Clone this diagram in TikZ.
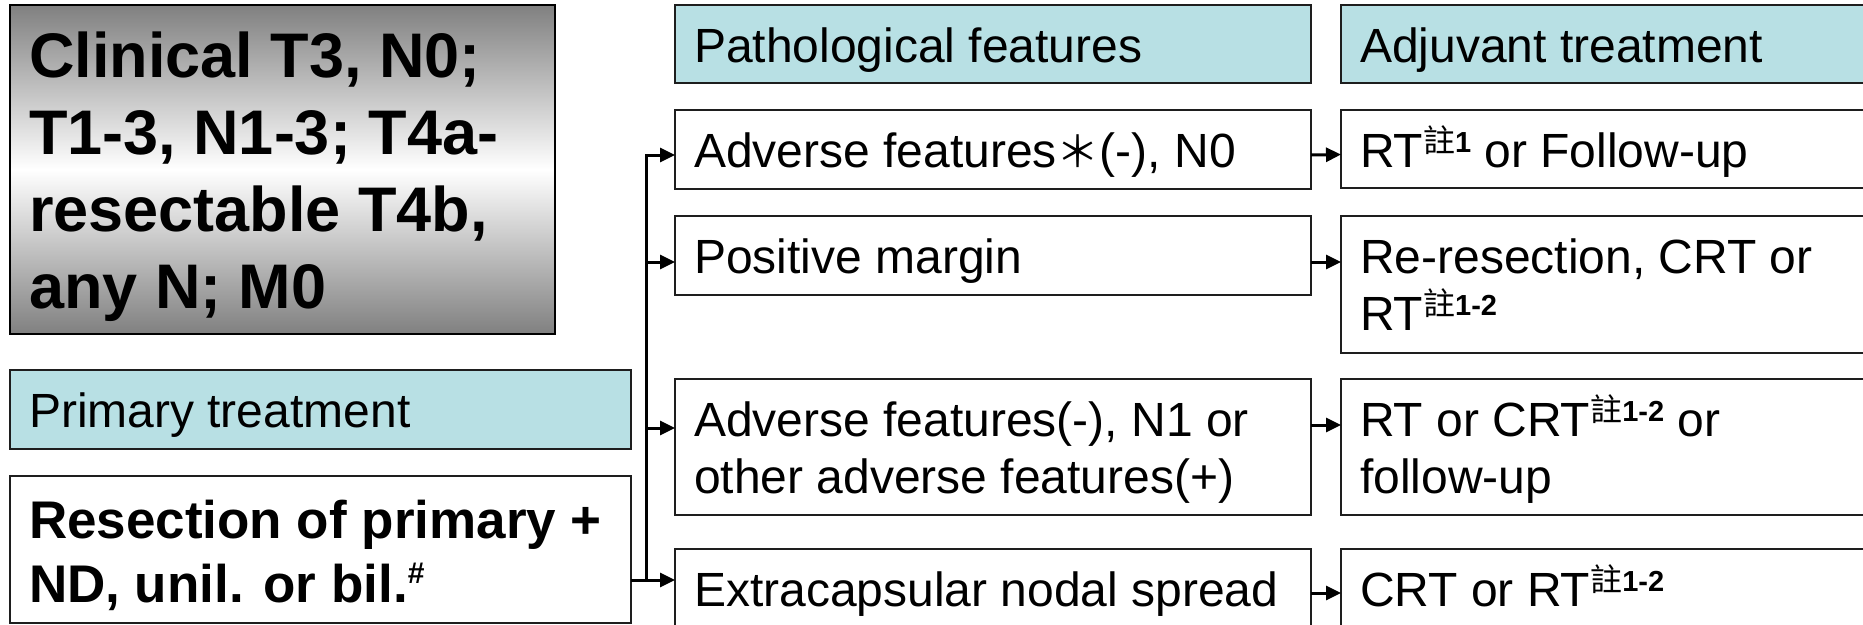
\documentclass[tikz,border=0pt]{standalone}
\usepackage{fontspec}
\setmainfont{Liberation Sans}
\newfontfamily\cjk{Noto Sans CJK TC}
\usetikzlibrary{arrows.meta,calc}
\definecolor{hdr}{RGB}{184,224,228}
\definecolor{cgray}{RGB}{128,128,128}
\definecolor{edge}{RGB}{30,30,30}
\newcommand\zhu[1]{\raisebox{15pt}{{\fontsize{32}{34}\selectfont\cjk 註}{\fontsize{29}{30}\selectfont\bfseries #1}}}
\newcommand\hashsup{\raisebox{19pt}{\fontsize{30}{32}\selectfont\bfseries\#}}
\newcommand\twolines[1]{\parbox[t]{620pt}{\raggedright #1}}
\begin{document}
\begin{tikzpicture}[x=1pt,y=-1pt,
  box/.style={draw=edge, line width=2pt, anchor=north west, inner sep=0pt, outer sep=0pt, fill=white},
  hbox/.style={box, fill=hdr},
  txt/.style={anchor=base west, inner sep=0pt, outer sep=0pt, font=\fontsize{48}{57}\selectfont},
  btxt/.style={anchor=base west, inner sep=0pt, outer sep=0pt, font=\fontsize{53}{64}\selectfont\bfseries},
  ctxt/.style={anchor=base west, inner sep=0pt, outer sep=0pt, font=\fontsize{63}{77}\selectfont\bfseries},
  conn/.style={line width=3pt, black},
  arr/.style={conn, -{Triangle[length=15pt,width=14pt]}}
]
\useasboundingbox (0,0) rectangle (1863,624);
\clip (0,0) rectangle (1863,624);

% left column
\node[box, draw=black, line width=2.5pt, top color=cgray, bottom color=cgray, middle color=white,
      minimum width=545pt, minimum height=329pt] (clin) at (10,5) {};
\node[ctxt] (clint) at ($(clin.north west)+(19,72)$)
  {\parbox[t]{530pt}{Clinical T3, N0;\\T1-3, N1-3; T4a-\\resectable T4b,\\any N; M0}};

\node[hbox, minimum width=621pt, minimum height=79pt] (prim) at (10,370) {};
\node[txt] (primt) at ($(prim.north west)+(19,57)$) {Primary treatment};

\node[box, minimum width=621pt, minimum height=147pt] (res) at (10,476) {};
\node[btxt] (rest) at ($(res.north west)+(19,62)$)
  {\parbox[t]{600pt}{Resection of primary +\\ND, unil. or bil.\hashsup}};

% middle column
\node[hbox, minimum width=636pt, minimum height=78pt] (ph) at (675,5) {};
\node[txt] (pht) at ($(ph.north west)+(19,57)$) {Pathological features};

\node[box, minimum width=636pt, minimum height=79pt] (p1) at (675,110) {};
\node[txt] (p1t) at ($(p1.north west)+(19,57)$) {Adverse features{\fontsize{43}{45}\selectfont\cjk ＊}(-), N0};

\node[box, minimum width=636pt, minimum height=79pt] (p2) at (675,216) {};
\node[txt] (p2t) at ($(p2.north west)+(19,57)$) {Positive margin};

\node[box, minimum width=636pt, minimum height=136pt] (p3) at (675,379) {};
\node[txt] (p3t) at ($(p3.north west)+(19,57)$)
  {\twolines{Adverse features(-), N1 or\\other adverse features(+)}};

\node[box, minimum width=636pt, minimum height=120pt] (p4) at (675,549) {};
\node[txt] (p4t) at ($(p4.north west)+(19,57)$) {Extracapsular nodal spread};

% right column
\node[hbox, minimum width=600pt, minimum height=78pt] (ah) at (1341,5) {};
\node[txt] (aht) at ($(ah.north west)+(19,57)$) {Adjuvant treatment};

\node[box, minimum width=600pt, minimum height=78pt] (a1) at (1341,110) {};
\node[txt] (a1t) at ($(a1.north west)+(19,57)$) {RT\zhu{1} or Follow-up};

\node[box, minimum width=600pt, minimum height=137pt] (a2) at (1341,216) {};
\node[txt] (a2t) at ($(a2.north west)+(19,57)$)
  {\twolines{Re-resection, CRT or\\RT\zhu{1-2}}};

\node[box, minimum width=600pt, minimum height=136pt] (a3) at (1341,379) {};
\node[txt] (a3t) at ($(a3.north west)+(19,57)$)
  {\twolines{RT or CRT\zhu{1-2} or\\follow-up}};

\node[box, minimum width=600pt, minimum height=120pt] (a4) at (1341,549) {};
\node[txt] (a4t) at ($(a4.north west)+(19,57)$) {CRT or RT\zhu{1-2}};

% connectors
\coordinate (j) at (646,580);
\coordinate (e1) at ($(p1.west)+(0,5.5)$);
\coordinate (e2) at ($(p2.west)+(0,6.5)$);
\coordinate (e3) at ($(p3.west)+(0,-19)$);
\draw[arr] (res.east |- j) -- (p4.west |- j);
\draw[arr] (j) |- (e1);
\draw[arr] (j |- e2) -- (e2);
\draw[arr] (j |- e3) -- (e3);

\draw[arr] ($(p1.east)+(0,5.5)$) -- ($(a1.west)+(0,5.5)$);
\draw[arr] ($(p2.east)+(0,6.5)$) -- ($(a2.west |- p2.east)+(0,6.5)$);
\draw[arr] ($(p3.east)+(0,-22)$) -- ($(a3.west)+(0,-22)$);
\draw[arr] ($(p4.north east)+(0,44)$) -- ($(a4.north west)+(0,44)$);
\end{tikzpicture}
\end{document}
